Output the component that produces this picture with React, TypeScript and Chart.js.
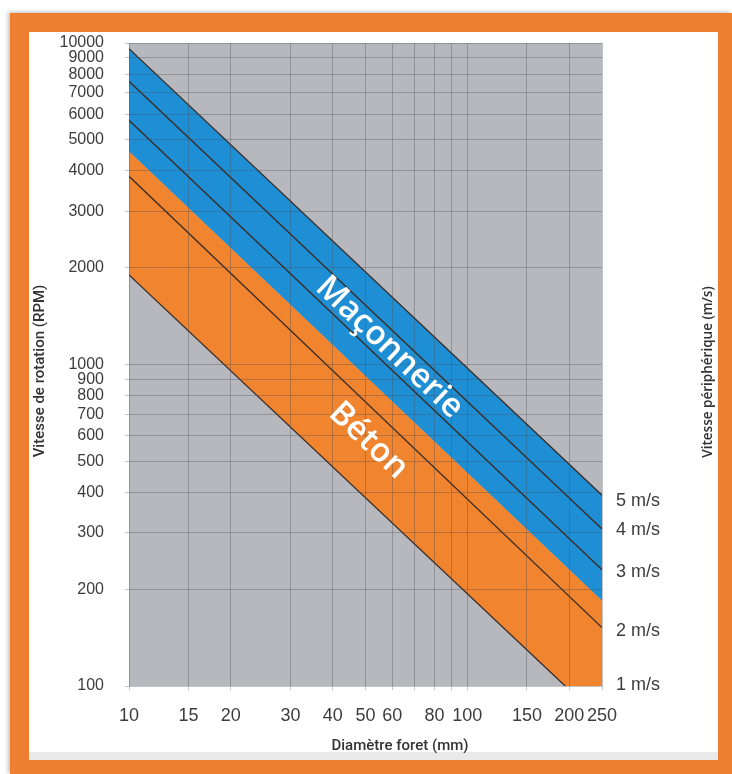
import React, { useEffect, useRef } from "react";
import { Chart, registerables } from "chart.js";

Chart.register(...registerables);

// ---- data (RPM at diameter 10 mm and 250 mm) ----
const diameters = [10, 250];
const speed1 = [1900, 78];
const speed2 = [3850, 152];
const bandEdge = [4600, 184];
const speed3 = [5750, 230];
const speed4 = [7600, 308];
const speed5 = [9600, 392];

const xTicks = [10, 15, 20, 30, 40, 50, 60, 70, 80, 90, 100, 150, 200, 250];
const xTickLabels = ["10", "15", "20", "30", "40", "50", "60", "", "80", "", "100", "150", "200", "250"];
const yTicks = [
  100, 200, 300, 400, 500, 600, 700, 800, 900,
  1000, 2000, 3000, 4000, 5000, 6000, 7000, 8000, 9000, 10000,
];
const rightTickValues = [375, 305, 227, 148, 101];
const rightTickLabels = ["5 m/s", "4 m/s", "3 m/s", "2 m/s", "1 m/s"];

const bandLabelTexts = ["Maçonnerie", "Béton"];

// ---- styles ----
const FRAME = "#ee7f31";
const PLOT_BG = "#b7b8bd";
const GRID = "rgba(70,72,82,0.33)";
const BLUE = "#1e8fd4";
const ORANGE = "#f0842f";
const LINE = "#3a2c26";
const TICK = "#3d3d3d";
const TITLE = "#333333";

const BAND_LABEL_ANCHORS = [
  { d: 58.8, rpm: 1130 },
  { d: 51, rpm: 580 },
];

const bgPlugin = {
  id: "plotBg",
  beforeDraw(chart: any) {
    const { ctx, chartArea } = chart;
    if (!chartArea) return;
    ctx.save();
    ctx.fillStyle = PLOT_BG;
    ctx.fillRect(chartArea.left, chartArea.top, chartArea.right - chartArea.left, chartArea.bottom - chartArea.top);
    ctx.restore();
  },
};

const textPlugin = {
  id: "texts",
  afterDraw(chart: any) {
    const { ctx } = chart;
    const x = chart.scales.x;
    const y = chart.scales.y;
    const ang = Math.atan2(
      y.getPixelForValue(100) - y.getPixelForValue(1000),
      x.getPixelForValue(100) - x.getPixelForValue(10)
    );
    ctx.save();
    ctx.fillStyle = "#ffffff";
    ctx.font = '600 33px "Open Sans"';
    ctx.textAlign = "center";
    ctx.textBaseline = "middle";
    bandLabelTexts.forEach((t, i) => {
      const a = BAND_LABEL_ANCHORS[i];
      ctx.save();
      ctx.translate(x.getPixelForValue(a.d), y.getPixelForValue(a.rpm));
      ctx.rotate(ang);
      ctx.fillText(t, 0, 0);
      ctx.restore();
    });

    // axis titles
    ctx.fillStyle = TITLE;
    ctx.font = '500 15px Roboto';
    ctx.save();
    ctx.translate(40, 371);
    ctx.rotate(-Math.PI / 2);
    ctx.fillText("Vitesse de rotation (RPM)", 0, 0);
    ctx.restore();

    ctx.fillText("Diamètre foret (mm)", 400, 746);

    ctx.font = '600 13.5px "Open Sans"';
    ctx.save();
    ctx.translate(708, 372);
    ctx.rotate(-Math.PI / 2);
    ctx.fillText("Vitesse périphérique (m/s)", 0, 0);
    ctx.restore();
    ctx.restore();
  },
};

export default function App() {
  const ref = useRef<HTMLCanvasElement>(null);

  useEffect(() => {
    const canvas = ref.current;
    if (!canvas) return;

    const lineDs = (label: string, vals: number[], extra: any = {}) => ({
      label,
      data: diameters.map((d, i) => ({ x: d, y: vals[i] })),
      borderColor: LINE,
      borderWidth: 1.3,
      pointRadius: 0,
      tension: 0,
      fill: false,
      xAxisID: "x",
      yAxisID: "y",
      ...extra,
    });

    const chart = new Chart(canvas, {
      type: "line",
      data: {
        datasets: [
          lineDs("1 m/s", speed1),
          lineDs("limite", bandEdge, {
            borderWidth: 0,
            borderColor: "rgba(0,0,0,0)",
            backgroundColor: ORANGE,
            fill: { target: 0, above: ORANGE, below: ORANGE },
          }),
          lineDs("5 m/s", speed5, {
            backgroundColor: BLUE,
            fill: { target: 1, above: BLUE, below: BLUE },
          }),
          lineDs("2 m/s", speed2),
          lineDs("3 m/s", speed3),
          lineDs("4 m/s", speed4),
        ],
      },
      options: {
        responsive: false,
        animation: false,
        events: [],
        layout: { padding: { left: 29, top: 43, right: 14, bottom: 22 } },
        plugins: {
          legend: { display: false },
          tooltip: { enabled: false },
          title: { display: false },
          filler: { drawTime: "beforeDatasetsDraw" },
        },
        scales: {
          x: {
            type: "logarithmic",
            position: "bottom",
            min: 10,
            max: 250,
            afterBuildTicks: (s: any) => {
              s.ticks = xTicks.map((v) => ({ value: v }));
            },
            afterFit: (s: any) => {
              s.height = 66;
            },
            ticks: {
              autoSkip: false,
              maxRotation: 0,
              minRotation: 0,
              padding: 15,
              color: TICK,
              font: { family: '"Liberation Sans"', size: 18 },
              callback: (v: any) => {
                const i = xTicks.indexOf(Number(v));
                return i >= 0 ? xTickLabels[i] : "";
              },
            },
            grid: { color: GRID, z: 1, drawTicks: true, tickLength: 4, lineWidth: 1 },
            border: { display: false },
          },
          y: {
            type: "logarithmic",
            position: "left",
            min: 100,
            max: 10000,
            afterBuildTicks: (s: any) => {
              s.ticks = yTicks.map((v) => ({ value: v }));
            },
            afterFit: (s: any) => {
              s.width = 100;
            },
            ticks: {
              autoSkip: false,
              padding: 21,
              color: TICK,
              font: { family: '"Liberation Sans"', size: 16 },
              callback: (v: any) => String(v),
            },
            grid: { color: GRID, z: 1, drawTicks: true, tickLength: 4, lineWidth: 1 },
            border: { display: false },
          },
          y2: {
            type: "logarithmic",
            position: "right",
            min: 100,
            max: 10000,
            afterBuildTicks: (s: any) => {
              s.ticks = rightTickValues.map((v) => ({ value: v }));
            },
            afterFit: (s: any) => {
              s.width = 116;
            },
            ticks: {
              autoSkip: false,
              padding: 14,
              color: TICK,
              font: { family: '"Liberation Sans"', size: 18 },
              callback: (v: any) => {
                const i = rightTickValues.indexOf(Number(v));
                return i >= 0 ? rightTickLabels[i] : "";
              },
            },
            grid: { display: false, drawTicks: false },
            border: { display: false },
          },
        },
      } as any,
      plugins: [bgPlugin, textPlugin],
    });

    return () => chart.destroy();
  }, []);

  return (
    <div
      style={{
        position: "fixed",
        left: 0,
        top: 0,
        width: 732,
        height: 774,
        background: "#ffffff",
        overflow: "hidden",
      }}
    >
      <div
        style={{
          position: "absolute",
          left: 10,
          top: 13,
          width: 722,
          height: 761,
          background: FRAME,
          boxShadow: "-2px -1px 4px rgba(0,0,0,0.25)",
        }}
      />
      <div
        style={{
          position: "absolute",
          left: 29,
          top: 32,
          width: 689,
          height: 720,
          background: "#ffffff",
          borderBottom: "8px solid #e9e9e9",
        }}
      />
      <canvas
        ref={ref}
        width={732}
        height={774}
        style={{ position: "absolute", left: 0, top: 0, width: 732, height: 774 }}
      />
    </div>
  );
}
